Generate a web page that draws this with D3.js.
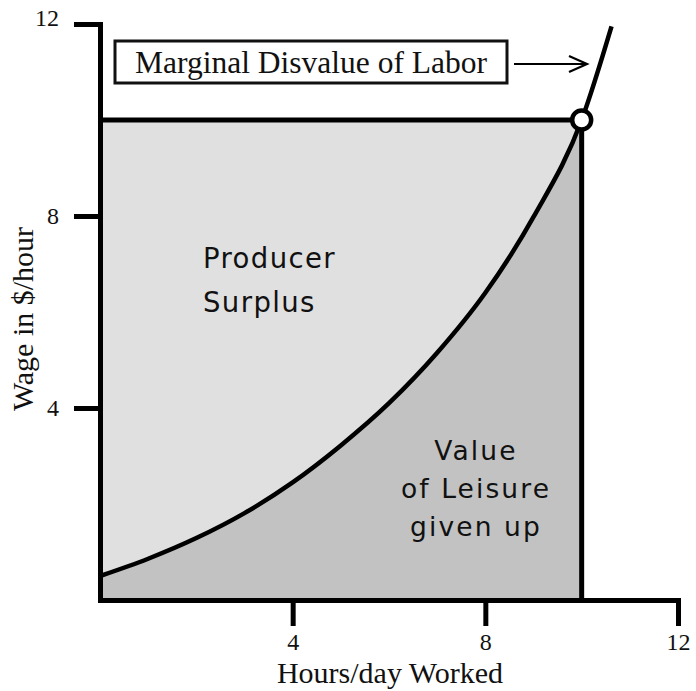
<!DOCTYPE html>
<html>
<head>
<meta charset="utf-8">
<script src="https://cdn.jsdelivr.net/npm/d3@7"></script>
<style>
  html, body { margin: 0; padding: 0; background: #fff; }
  svg { display: block; }
</style>
</head>
<body>
<svg id="chart" width="696" height="691"></svg>
<script>
// ---- data ----
const hours = [0, 1, 2, 3, 4, 5, 6, 7, 8, 9, 10, 10.62];
const wage  = [0.5, 0.86, 1.29, 1.81, 2.45, 3.22, 4.1, 5.15, 6.4, 7.98, 10, 11.95];
const equilibriumHours = 10;
const equilibriumWage = 10;
const xTicks = [4, 8, 12];
const yTicks = [4, 8, 12];
const xLabel = "Hours/day Worked";
const yLabel = "Wage in $/hour";
const curveLabel = "Marginal Disvalue of Labor";
const surplusLabel = ["Producer", "Surplus"];
const leisureLabel = ["Value", "of Leisure", "given up"];

const svg = d3.select("#chart");
const x = d3.scaleLinear().domain([0, 12]).range([100, 678]);
const y = d3.scaleLinear().domain([0, 12]).range([600, 24]);

const pts = hours.map((h, i) => ({ h, w: wage[i] }));
const inside = pts.filter(p => p.h <= equilibriumHours);

const serif = "'Liberation Serif', 'Times New Roman', serif";
const sans = "'DejaVu Sans', Verdana, sans-serif";

// light region (producer surplus rectangle)
svg.append("rect")
  .attr("x", x(0)).attr("y", y(equilibriumWage))
  .attr("width", x(equilibriumHours) - x(0))
  .attr("height", y(0) - y(equilibriumWage))
  .attr("fill", "#e0e0e0");

// dark region under curve
const area = d3.area().x(d => x(d.h)).y0(y(0)).y1(d => y(d.w)).curve(d3.curveMonotoneX);
svg.append("path").datum(inside).attr("d", area).attr("fill", "#c2c2c2");

// curve
const line = d3.line().x(d => x(d.h)).y(d => y(d.w)).curve(d3.curveMonotoneX);
svg.append("path").datum(pts).attr("d", line)
  .attr("fill", "none").attr("stroke", "#000").attr("stroke-width", 4.5);

// rectangle borders
svg.append("line")
  .attr("x1", x(0)).attr("x2", x(equilibriumHours))
  .attr("y1", y(equilibriumWage)).attr("y2", y(equilibriumWage))
  .attr("stroke", "#000").attr("stroke-width", 5);
svg.append("line")
  .attr("x1", x(equilibriumHours)).attr("x2", x(equilibriumHours))
  .attr("y1", y(equilibriumWage)).attr("y2", y(0))
  .attr("stroke", "#000").attr("stroke-width", 5);

// axes
const xAxis = svg.append("g").attr("transform", `translate(0,${y(0)})`)
  .call(d3.axisBottom(x).tickValues(xTicks).tickSize(26).tickSizeOuter(0).tickPadding(7));
const yAxis = svg.append("g").attr("transform", `translate(${x(0)},0)`)
  .call(d3.axisLeft(y).tickValues(yTicks).tickSize(26).tickSizeOuter(0).tickPadding(15));
[xAxis, yAxis].forEach(g => {
  g.select(".domain").attr("stroke", "#000").attr("stroke-width", 5).attr("stroke-linecap", "square");
  g.selectAll(".tick line").attr("stroke", "#000").attr("stroke-width", 5);
  g.selectAll(".tick text").attr("fill", "#111").style("font-family", serif).style("font-size", "24px");
});
yAxis.selectAll(".tick text").filter(d => d === 12).attr("dy", "0.05em");

// equilibrium circle
svg.append("circle")
  .attr("cx", x(equilibriumHours)).attr("cy", y(equilibriumWage)).attr("r", 9.5)
  .attr("fill", "#fff").attr("stroke", "#000").attr("stroke-width", 4.5);

// label box
svg.append("rect").attr("x", 115).attr("y", 41).attr("width", 392).attr("height", 42)
  .attr("fill", "#fff").attr("stroke", "#111").attr("stroke-width", 3);
svg.append("text").attr("x", 311).attr("y", 73).attr("text-anchor", "middle")
  .style("font-family", serif).style("font-size", "31.5px").attr("fill", "#111")
  .text(curveLabel);

// arrow
svg.append("line").attr("x1", 514).attr("x2", 586).attr("y1", 64).attr("y2", 64)
  .attr("stroke", "#000").attr("stroke-width", 2.2);
svg.append("path").attr("d", "M569,56 L587,64 L569,72")
  .attr("fill", "none").attr("stroke", "#000").attr("stroke-width", 2.2);

// region labels
svg.append("text").attr("x", 203).attr("y", 268)
  .style("font-family", sans).style("font-size", "27.5px").style("letter-spacing", "1.4px").attr("fill", "#111")
  .selectAll("tspan").data(surplusLabel).join("tspan")
  .attr("x", 203).attr("dy", (d, i) => i === 0 ? 0 : 44).text(d => d);

svg.append("text").attr("y", 460).attr("text-anchor", "middle")
  .style("font-family", sans).style("font-size", "26.5px").style("letter-spacing", "2.1px").attr("fill", "#111")
  .selectAll("tspan").data(leisureLabel).join("tspan")
  .attr("x", 476).attr("dy", (d, i) => i === 0 ? 0 : 38).text(d => d);

// axis titles
svg.append("text").attr("x", 390).attr("y", 683).attr("text-anchor", "middle")
  .style("font-family", serif).style("font-size", "30px").attr("fill", "#111").text(xLabel);
svg.append("text").attr("transform", "translate(33,319) rotate(-90)").attr("text-anchor", "middle")
  .style("font-family", serif).style("font-size", "30px").attr("fill", "#111").text(yLabel);
</script>
</body>
</html>
